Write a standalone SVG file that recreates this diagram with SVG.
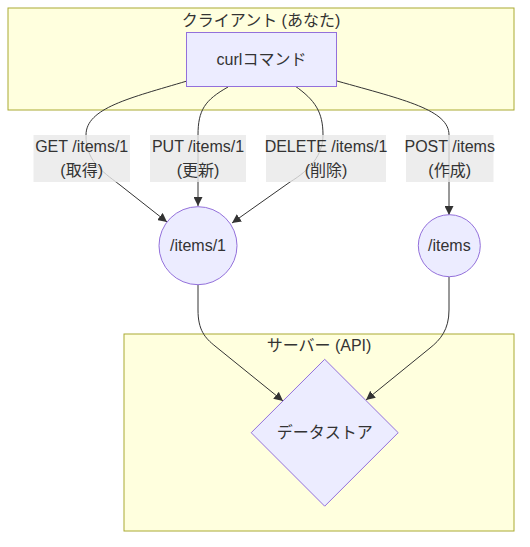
<svg xmlns="http://www.w3.org/2000/svg" width="530" height="547" viewBox="0 0 530 547">
<style>
  text { font-family: "Liberation Sans", "Noto Sans CJK JP", sans-serif; font-size: 16px; fill: #333333; text-anchor: middle; }
  .cluster { fill: #ffffde; stroke: #aaaa33; stroke-width: 1; }
  .node { fill: #ececff; stroke: #9370db; stroke-width: 1; }
  .edge { fill: none; stroke: #333333; stroke-width: 1; marker-end: url(#arrow); }
  .lbl { fill: #e8e8e8; fill-opacity: 0.8; }
</style>
<defs>
  <marker id="arrow" viewBox="0 0 10 10" refX="10" refY="5" markerWidth="9" markerHeight="9" markerUnits="userSpaceOnUse" orient="auto">
    <path d="M0,0 L10,5 L0,10 z" fill="#333333"/>
  </marker>
</defs>
<rect width="530" height="547" fill="#ffffff"/>
<g id="cluster-client">
  <rect class="cluster" x="8" y="8" width="506" height="102"/>
  <text x="261" y="26">クライアント (あなた)</text>
</g>
<g id="cluster-server">
  <rect class="cluster" x="124" y="334" width="390" height="197"/>
  <text x="319" y="351">サーバー (API)</text>
</g>
<g id="connectors">
  <path class="edge" d="M187,81 C130,98 86,108 86,135 C86,160 100,170 120,185 L167,222"/>
  <path class="edge" d="M228,87 C205,100 198,110 198,135 L198,206"/>
  <path class="edge" d="M295,86 C315,100 323,112 323,135 C323,155 310,170 290,182 L232,223"/>
  <path class="edge" d="M337,81 C405,100 449,110 449,135 L449,215"/>
  <path class="edge" d="M198,285 L198,310 C198,330 205,338 215,346 L283,401"/>
  <path class="edge" d="M449,277 L449,310 C449,330 440,340 430,348 L366,400"/>
</g>
<g id="edge-labels">
  <rect class="lbl" x="33.5" y="135" width="96.5" height="47"/>
  <text x="81.7" y="152">GET /items/1</text>
  <text x="81.7" y="176">(取得)</text>
  <rect class="lbl" x="150" y="135" width="96" height="47"/>
  <text x="198" y="152">PUT /items/1</text>
  <text x="198" y="176">(更新)</text>
  <rect class="lbl" x="266" y="135" width="120" height="47"/>
  <text x="326" y="152">DELETE /items/1</text>
  <text x="326" y="176">(削除)</text>
  <rect class="lbl" x="406" y="135" width="87.5" height="47"/>
  <text x="449.7" y="152">POST /items</text>
  <text x="449.7" y="176">(作成)</text>
</g>
<g id="node-curl">
  <rect class="node" x="186.5" y="32.5" width="150" height="54"/>
  <text x="261.5" y="65">curlコマンド</text>
</g>
<g id="node-items1">
  <circle class="node" cx="198" cy="245.7" r="39"/>
  <text x="198" y="251">/items/1</text>
</g>
<g id="node-items">
  <circle class="node" cx="449.3" cy="245.7" r="31"/>
  <text x="449.3" y="251">/items</text>
</g>
<g id="node-datastore">
  <polygon class="node" points="324.7,359.3 398.2,432.7 324.7,506.2 251.2,432.7"/>
  <text x="324.7" y="438">データストア</text>
</g>
</svg>
